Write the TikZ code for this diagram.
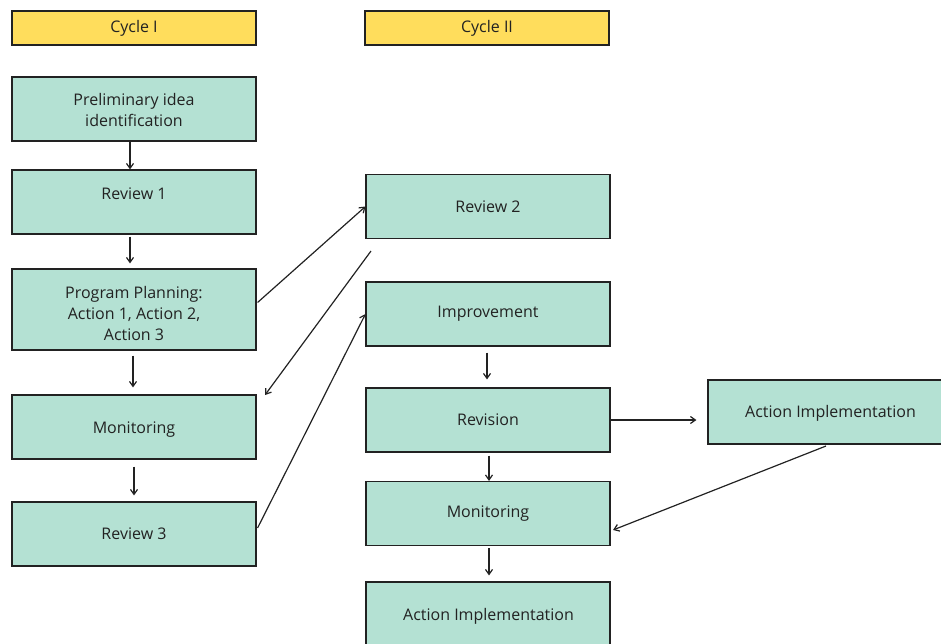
\documentclass[tikz,border=0pt]{standalone}
\usepackage{fontspec}
\setmainfont{Open Sans}
\usetikzlibrary{arrows.meta,calc}
\definecolor{boxgreen}{HTML}{B4E1D3}
\definecolor{boxyellow}{HTML}{FFDD5C}
\definecolor{ink}{HTML}{222222}
\tikzset{
  gbox/.style={draw=ink, line width=1.1pt, fill=boxgreen, minimum width=244pt, minimum height=64pt, inner sep=0pt, align=center, text=ink, font=\fontsize{16}{21.5}\selectfont},
  ybox/.style={draw=ink, line width=1.1pt, fill=boxyellow, minimum width=244pt, minimum height=34pt, inner sep=0pt, align=center, text=ink, font=\fontsize{16}{20}\selectfont},
  lbl/.style={text=ink, inner sep=0pt, align=center, font=\fontsize{16}{21.5}\selectfont},
  arr/.style={draw=ink, line width=1.2pt, -{Straight Barb[length=5pt,width=7pt]}}
}
\begin{document}
\begin{tikzpicture}[x=1pt,y=-1pt]
\useasboundingbox (0,0) rectangle (941,643);
\begin{scope}
\clip (0,0) rectangle (941,643);
% headers
\node[ybox] (c1) at (134,28) {Cycle I};
\node[ybox] (c2) at (487,28) {Cycle II};
% left column
\node[gbox] (prelim) at (134,109) {};
\node[lbl] (prelimt) at (134,110) {Preliminary idea\\identification};
\node[gbox] (rev1) at (134,202) {};
\node[lbl] (rev1t) at (134,194) {Review 1};
\node[gbox, minimum height=81pt] (prog) at (134,309.5) {};
\node[lbl, font=\fontsize{16}{21}\selectfont] (progt) at (134,313) {Program Planning:\\Action 1, Action 2,\\Action 3};
\node[gbox] (monL) at (134,427) {};
\node[lbl] (monLt) at (134,430) {Monitoring};
\node[gbox] (rev3) at (134,534) {Review 3};
% middle column
\node[gbox] (rev2) at (488,206.5) {Review 2};
\node[gbox] (impr) at (488,314) {Improvement};
\node[gbox] (revi) at (488,420) {Revision};
\node[gbox] (monR) at (488,513.5) {Monitoring};
\node[gbox, minimum height=70pt] (actB) at (488,617) {};
\node[lbl] (actBt) at (488.5,616) {Action Implementation};
% right
\node[gbox, minimum width=245pt] (actR) at (830.5,412) {};
\node[lbl] (actRt) at (830.5,413) {Action Implementation};
% free coordinates
\coordinate (fb) at (371,251);
\coordinate (monLin) at (265,395);
\coordinate (monRin) at (613,530);
\coordinate (actRout) at (826,446);
% arrows
\draw[arr] (prelim.south -| 130,0) -- (rev1.north -| 130,0);
\draw[arr] ($(rev1.south -| 130,0)+(0,2)$) -- ($(prog.north -| 130,0)+(0,-5)$);
\draw[arr] ($(prog.south)+(-1,5)$) -- ($(monL.north)+(-1,-7)$);
\draw[arr] ($(monL.south)+(0,7)$) -- ($(rev3.north)+(0,-6)$);
\draw[arr] ($(prog.east)+(1,-7)$) -- (rev2.west);
\draw[arr] (fb) -- (monLin);
\draw[arr] ($(rev3.east)+(1,-6)$) -- (impr.west);
\draw[arr] ($(impr.south)+(-1,6)$) -- ($(revi.north)+(-1,-8)$);
\draw[arr] (revi.east) -- ($(actR.west |- revi.east)+(-11,0)$);
\draw[arr] (actRout) -- (monRin);
\draw[arr] ($(revi.south)+(1,3)$) -- (monR.north -| 489,0);
\draw[arr] ($(monR.south)+(1,2)$) -- ($(actB.north)+(1,-6)$);
\end{scope}
\end{tikzpicture}
\end{document}
